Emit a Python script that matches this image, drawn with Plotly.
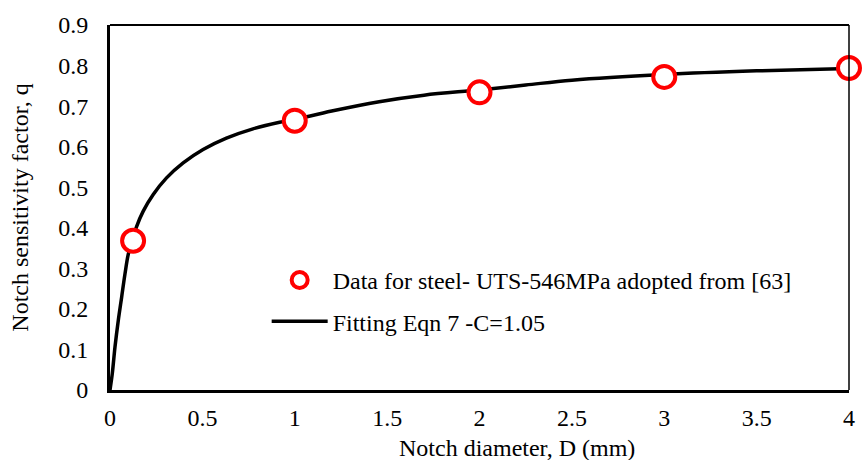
import plotly.graph_objects as go

data_d = [0.125, 1.0, 2.0, 3.0, 4.0]
data_q = [0.368, 0.664, 0.734, 0.772, 0.794]

# Fitting curve
fit_d = [0.0, 0.0125, 0.027, 0.045, 0.063, 0.081, 0.099, 0.12, 0.144, 0.18,
         0.234, 0.306, 0.396, 0.504, 0.63, 0.774, 0.918, 1.0, 1.2, 1.457,
         1.7, 2.0, 2.25, 2.5, 3.0, 3.5, 4.0]
fit_q = [0.0, 0.041, 0.106, 0.172, 0.229, 0.286, 0.335, 0.368, 0.403, 0.441,
         0.482, 0.523, 0.560, 0.593, 0.621, 0.644, 0.660, 0.667, 0.688, 0.711,
         0.727, 0.740, 0.752, 0.764, 0.778, 0.787, 0.793]

x_ticks = [0, 0.5, 1, 1.5, 2, 2.5, 3, 3.5, 4]
x_tick_text = ["0", "0.5", "1", "1.5", "2", "2.5", "3", "3.5", "4"]
y_ticks = [0, 0.1, 0.2, 0.3, 0.4, 0.5, 0.6, 0.7, 0.8, 0.9]
y_tick_text = ["0", "0.1", "0.2", "0.3", "0.4", "0.5", "0.6", "0.7", "0.8", "0.9"]

data_name = "Data for steel- UTS-546MPa adopted from [63]"
fit_name = "Fitting Eqn 7 -C=1.05"
x_title = "Notch diameter, D (mm)"
y_title = "Notch sensitivity factor, q"

FONT = "Liberation Serif, Times New Roman, serif"

fig = go.Figure()
fig.add_trace(go.Scatter(
    x=fit_d, y=fit_q, mode="lines", name=fit_name,
    line=dict(color="black", width=3.5, shape="spline", smoothing=1.0),
    legendrank=2, legendgroup="b",
))
fig.add_trace(go.Scatter(
    x=data_d, y=data_q, mode="markers", name=data_name,
    marker=dict(symbol="circle", size=22, color="white",
                line=dict(color="#FF0000", width=4)),
    legendrank=1, legendgroup="a", cliponaxis=False,
))

fig.update_layout(
    width=867, height=460,
    margin=dict(l=110, r=16, t=23, b=70),
    paper_bgcolor="white", plot_bgcolor="white",
    font=dict(family=FONT, size=24, color="black"),
    showlegend=True,
    legend=dict(
        x=0.212, y=0.362, xanchor="left", yanchor="top",
        bgcolor="rgba(0,0,0,0)", borderwidth=0,
        font=dict(family=FONT, size=24, color="black"),
        traceorder="grouped", tracegroupgap=7, itemwidth=56,
    ),
    xaxis=dict(
        range=[0, 4], tickvals=x_ticks, ticktext=x_tick_text,
        showgrid=False, zeroline=False, showline=True, linecolor="black",
        linewidth=3, ticks="", ticklabelstandoff=4,
        tickfont=dict(family=FONT, size=24, color="black"),
    ),
    yaxis=dict(
        range=[0, 0.9], tickvals=y_ticks, ticktext=y_tick_text,
        showgrid=False, zeroline=False, showline=True, linecolor="black",
        linewidth=3, ticks="", ticklabelstandoff=14,
        tickfont=dict(family=FONT, size=24, color="black"),
        title=dict(text=y_title, font=dict(family=FONT, size=24, color="black"),
                   standoff=23),
    ),
    annotations=[dict(
        text=x_title, xref="paper", yref="paper",
        x=(518.5 - 110) / 741, y=-(448 - 390) / 367,
        xanchor="center", yanchor="middle", showarrow=False,
        font=dict(family=FONT, size=24, color="black"),
    )],
    shapes=[
        dict(type="line", xref="x domain", yref="y domain", x0=0, x1=1, y0=1, y1=1,
             line=dict(color="black", width=2)),
        dict(type="line", xref="x domain", yref="y domain", x0=1, x1=1, y0=0, y1=1,
             line=dict(color="black", width=1.5)),
    ],
)

fig.write_html("out.html")
